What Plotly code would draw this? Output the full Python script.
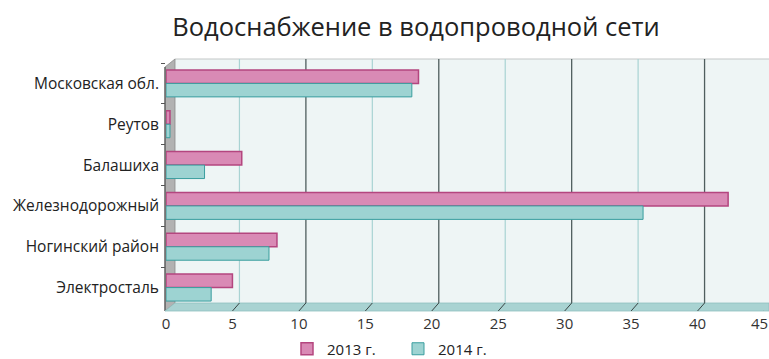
import plotly.graph_objects as go

categories = ["Московская обл.", "Реутов", "Балашиха", "Железнодорожный", "Ногинский район", "Электросталь"]
values_2013 = [19.0, 0.3, 5.7, 42.3, 8.35, 5.0]
values_2014 = [18.5, 0.3, 2.9, 35.9, 7.75, 3.4]
series_names = ["2013 г.", "2014 г."]
x_ticks = [0, 5, 10, 15, 20, 25, 30, 35, 40, 45]
title_text = "Водоснабжение в водопроводной сети"

W_FIG, H_FIG = 769, 359
L, R, T, B = 166, 5, 63, 51
PW = W_FIG - L - R
PH = H_FIG - T - B
BOTTOM = H_FIG - B
PXU = PW / 45.0  # pixels per unit
DEPTH = 7  # 3D depth shift in px

def X(px):
    return (px - L) / PW

def Y(py):
    return (BOTTOM - py) / PH

FONT = "Open Sans"

fig = go.Figure()
fig.add_trace(go.Bar(
    y=categories, x=values_2013, name=series_names[0], orientation="h",
    marker=dict(color="#D98AB5", line=dict(color="#B4467F", width=1.5)),
))
fig.add_trace(go.Bar(
    y=categories, x=values_2014, name=series_names[1], orientation="h",
    marker=dict(color="#9DD3D2", line=dict(color="#3A9E9F", width=1)),
))

shapes = []
# back wall
shapes.append(dict(type="rect", xref="paper", yref="paper", x0=X(175), x1=X(769), y0=Y(303), y1=Y(59),
                   fillcolor="#EEF5F5", line=dict(width=0), layer="below"))
shapes.append(dict(type="line", xref="paper", yref="paper", x0=X(175), x1=X(769), y0=Y(59), y1=Y(59),
                   line=dict(color="#C4C8C8", width=1.2), layer="below"))
# left side wall
shapes.append(dict(type="path", xref="paper", yref="paper",
                   path=f"M {X(165)},{Y(311)} L {X(165)},{Y(67)} L {X(175)},{Y(59)} L {X(175)},{Y(303)} Z",
                   fillcolor="#B2B2B2", line=dict(color="#8A8A8A", width=0.8), layer="below"))
shapes.append(dict(type="line", xref="paper", yref="paper", x0=X(165), x1=X(165), y0=Y(311), y1=Y(67),
                   line=dict(color="#555555", width=1.2), layer="below"))
# floor
shapes.append(dict(type="path", xref="paper", yref="paper",
                   path=f"M {X(165)},{Y(311)} L {X(175)},{Y(303)} L {X(769)},{Y(303)} L {X(769)},{Y(311)} Z",
                   fillcolor="#A9D3D2", line=dict(color="#8FC0BF", width=0.8), layer="below"))
# gridlines on the back wall and diagonal ticks on the floor
shift = DEPTH / PXU
for v in x_ticks[1:]:
    dark = (v % 10 == 0)
    shapes.append(dict(type="line", xref="x", yref="paper", x0=v + shift, x1=v + shift, y0=Y(303), y1=Y(59),
                       line=dict(color="#4F5E5E" if dark else "#A9D3D3", width=1.3 if dark else 1.2), layer="below"))
    shapes.append(dict(type="line", xref="x", yref="paper", x0=v, x1=v + shift, y0=Y(311), y1=Y(303),
                       line=dict(color="#3A4545", width=1), layer="below"))

# the last tick label sits at the right edge; draw it as text nudged inward
annotations = [dict(x=x_ticks[-1], xref="x", y=Y(323), yref="paper", text=str(x_ticks[-1]),
                    showarrow=False, xanchor="center", yanchor="middle", xshift=-5,
                    font=dict(size=15, color="#333333", family=FONT))]

fig.update_layout(
    width=W_FIG, height=H_FIG,
    margin=dict(l=L, r=R, t=T, b=B, pad=0, autoexpand=False),
    paper_bgcolor="white", plot_bgcolor="rgba(0,0,0,0)",
    font=dict(family=FONT, color="#222222", size=15),
    title=dict(text=title_text, x=416 / W_FIG, xanchor="center", xref="container",
               y=1 - 27 / H_FIG, yanchor="middle", yref="container",
               font=dict(size=25.5, color="#222222", family=FONT)),
    barmode="group", bargap=0.34, bargroupgap=0,
    showlegend=True,
    legend=dict(orientation="h", x=X(287), xanchor="left", y=Y(349), yanchor="middle",
                font=dict(size=15, color="#222222"), entrywidth=66, entrywidthmode="pixels",
                bgcolor="rgba(0,0,0,0)", traceorder="normal"),
    shapes=shapes,
    annotations=annotations,
    xaxis=dict(range=[0, 45], tickvals=x_ticks[:-1], showgrid=False, zeroline=False,
               showline=False, ticks="", ticklabelstandoff=5, automargin=False,
               tickfont=dict(size=15, color="#333333"), fixedrange=True),
    yaxis=dict(categoryorder="array", categoryarray=categories, autorange="reversed",
               showgrid=False, zeroline=False, showline=False, ticks="outside", tickson="boundaries",
               ticklen=4, tickcolor="#555555", ticklabelstandoff=6, automargin=False,
               tickfont=dict(size=15.5, color="#222222")),
)

fig.write_html("out.html", config={"displayModeBar": False},
               post_script="document.body.style.margin='0';document.body.style.overflow='hidden';")
